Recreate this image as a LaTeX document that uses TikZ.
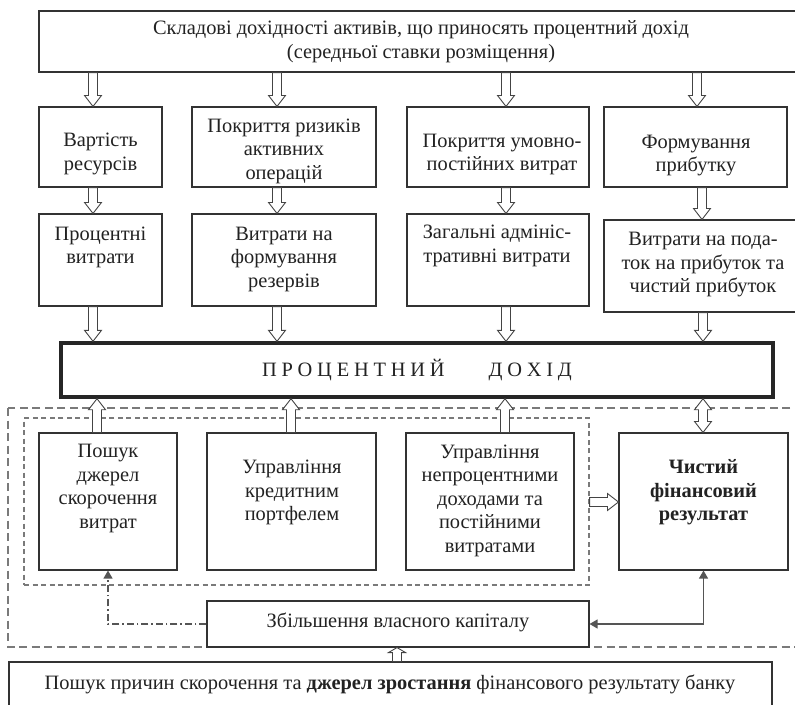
\documentclass[tikz,border=0pt]{standalone}
\usepackage{fontspec}
\setmainfont{Liberation Serif}
\usetikzlibrary{calc,arrows.meta,fit}
\definecolor{boxc}{HTML}{333333}
\definecolor{arrc}{HTML}{444444}
\definecolor{dashc}{HTML}{7A7A7A}
\definecolor{connc}{HTML}{555555}
\definecolor{textc}{HTML}{222222}
\newcommand\lsp{\hspace{4.8pt}}
% hollow arrow: [head length]{start}{tip}
\newcommand\harr[3][11pt]{%
  \path #2 coordinate (hA) #3 coordinate (hB);
  \path ($(hB)!#1!(hA)$) coordinate (hH);
  \draw[harrow] ($(hA)!4.5pt!90:(hB)$) -- ($(hH)!4.5pt!90:(hB)$) -- ($(hH)!8.5pt!90:(hB)$) -- (hB)
    -- ($(hH)!8.5pt!-90:(hB)$) -- ($(hH)!4.5pt!-90:(hB)$) -- ($(hA)!4.5pt!-90:(hB)$) -- cycle;}
% double hollow arrow
\newcommand\hdarr[2]{%
  \path #1 coordinate (hA) #2 coordinate (hB);
  \path ($(hB)!11pt!(hA)$) coordinate (hH);
  \path ($(hA)!11pt!(hB)$) coordinate (hG);
  \draw[harrow] ($(hG)!4.5pt!90:(hB)$) -- ($(hH)!4.5pt!90:(hB)$) -- ($(hH)!8.5pt!90:(hB)$) -- (hB)
    -- ($(hH)!8.5pt!-90:(hB)$) -- ($(hH)!4.5pt!-90:(hB)$) -- ($(hG)!4.5pt!-90:(hB)$)
    -- ($(hG)!8.5pt!-90:(hB)$) -- (hA) -- ($(hG)!8.5pt!90:(hB)$) -- cycle;}
\tikzset{
  box/.style={draw=boxc, line width=1.1pt, rectangle, inner sep=0pt},
  thickbox/.style={draw=black!85, line width=3.4pt, rectangle, inner sep=0pt},
  txt/.style={align=center, inner sep=0pt, text=textc, font=\fontsize{20.4}{23.5}\selectfont},
  harrow/.style={draw=arrc, line width=0.9pt, fill=white, line join=miter},
  outerdash/.style={draw=dashc, line width=1.2pt, dash pattern=on 8pt off 4.5pt},
  innerdash/.style={draw=dashc, line width=1.1pt, dash pattern=on 5pt off 3.5pt},
  conn/.style={draw=connc, line width=1.2pt},
  dashdot/.style={draw=connc, line width=1.2pt, dash pattern=on 7pt off 3pt on 1.5pt off 3pt}
}
\begin{document}
\begin{tikzpicture}[x=1pt,y=-1pt]
\useasboundingbox[fill=white] (0,0) rectangle (795,704);
% dashed frames
\draw[outerdash] (8,408) rectangle (810,647);
\node[innerdash, inner sep=0pt, fit={(24,418) (589,585)}] (inn) {};
% boxes
\node[box, fit={(39,11) (803,72)}] (top) {};
\node[box, fit={(39,107) (162,187)}] (b1) {};
\node[box, fit={(192,107) (376,187)}] (b2) {};
\node[box, fit={(407,107) (589,187)}] (b3) {};
\node[box, fit={(604,107) (787,187)}] (b4) {};
\node[box, fit={(39,214) (162,306)}] (b5) {};
\node[box, fit={(192,214) (376,306)}] (b6) {};
\node[box, fit={(407,214) (589,306)}] (b7) {};
\node[box, fit={(604,220) (802,312)}] (b8) {};
\node[thickbox, fit={(61,343) (773,397)}] (pd) {};
\node[box, fit={(39,433) (177,570)}] (p1) {};
\node[box, fit={(207,433) (376,570)}] (p2) {};
\node[box, fit={(406,433) (574,570)}] (p3) {};
\node[box, fit={(619,433) (788,570)}] (p4) {};
\node[box, fit={(207,601) (589,647)}] (z) {};
\node[box, fit={(9,662) (772,712)}] (bot) {};
% texts
\node[txt] (t0) at (421,41.5) {Складові дохідності активів, що приносять процентний дохід\\(середньої ставки розміщення)};
\node[txt] (t1) at (100.5,154) {Вартість\\ресурсів};
\node[txt] (t2) at (284,151) {Покриття ризиків\\активних\\операцій};
\node[txt] (t3) at (502,154.5) {Покриття умовно-\\постійних витрат};
\node[txt] (t4) at (696,155.5) {Формування\\прибутку};
\node[txt] (t5) at (100.5,247.5) {Процентні\\витрати};
\node[txt] (t6) at (284,259) {Витрати на\\формування\\резервів};
\node[txt] (t7) at (497,246) {Загальні адмініс-\\тративні витрати};
\node[txt] (t8) at (703,265) {Витрати на пода-\\ток на прибуток та\\чистий прибуток};
\node[txt] (tpd) at (417,370) {П\lsp Р\lsp О\lsp Ц\lsp Е\lsp Н\lsp Т\lsp Н\lsp И\lsp Й\hspace{44pt}Д\lsp О\lsp Х\lsp І\lsp Д};
\node[txt] (u1) at (108,488.5) {Пошук\\джерел\\скорочення\\витрат};
\node[txt] (u2) at (292,492.5) {Управління\\кредитним\\портфелем};
\node[txt] (u3) at (490,500.5) {Управління\\непроцентними\\доходами та\\постійними\\витратами};
\node[txt] (u4) at (703.5,492.5) {\bfseries Чистий\\\bfseries фінансовий\\\bfseries результат};
\node[txt] (tz) at (398,622.5) {Збільшення власного капіталу};
\node[txt] (tb) at (390,684.5) {Пошук причин скорочення та \textbf{джерел зростання} фінансового результату банку};
% column coordinates
\coordinate (x93) at (93,0);
\coordinate (x97) at (97,0);
\coordinate (x277) at (277,0);
\coordinate (x291) at (291,0);
\coordinate (x505) at (505,0);
\coordinate (x506) at (506,0);
\coordinate (x697) at (697,0);
\coordinate (x702) at (702,0);
\coordinate (x703) at (703,0);
\coordinate (x397) at (397,0);
\coordinate (y502) at (0,502);
% hollow arrows: top -> row 1
\harr{(top.south -| x93)}{(b1.north -| x93)}
\harr{(top.south -| x277)}{(b2.north -| x277)}
\harr{(top.south -| x506)}{(b3.north -| x506)}
\harr{(top.south -| x697)}{(b4.north -| x697)}
% row 1 -> row 2
\harr{(b1.south -| x93)}{(b5.north -| x93)}
\harr{(b2.south -| x277)}{(b6.north -| x277)}
\harr{(b3.south -| x506)}{(b7.north -| x506)}
\harr{(b4.south -| x702)}{(b8.north -| x702)}
% row 2 -> ПД
\harr{(b5.south -| x93)}{(pd.north -| x93)}
\harr{(b6.south -| x277)}{(pd.north -| x277)}
\harr{(b7.south -| x506)}{(pd.north -| x506)}
\harr{(b8.south -| x703)}{(pd.north -| x703)}
% row 3 -> ПД
\harr{(p1.north -| x97)}{(pd.south -| x97)}
\harr{(p2.north -| x291)}{(pd.south -| x291)}
\harr{(p3.north -| x505)}{(pd.south -| x505)}
\hdarr{(pd.south -| x703)}{(p4.north -| x703)}
% inner frame -> result
\harr{(inn.east |- y502)}{(p4.west |- y502)}
% bottom -> capital
\harr[5pt]{(bot.north -| x397)}{(z.south -| x397)}
% thin connectors
\draw[conn, {Triangle[length=8pt,width=9pt]}-{Triangle[length=8pt,width=9pt]}] (z.east) -| (p4.south);
\draw[dashdot, -{Triangle[length=8pt,width=9pt]}] (z.west) -| (p1.south);
\end{tikzpicture}
\end{document}
